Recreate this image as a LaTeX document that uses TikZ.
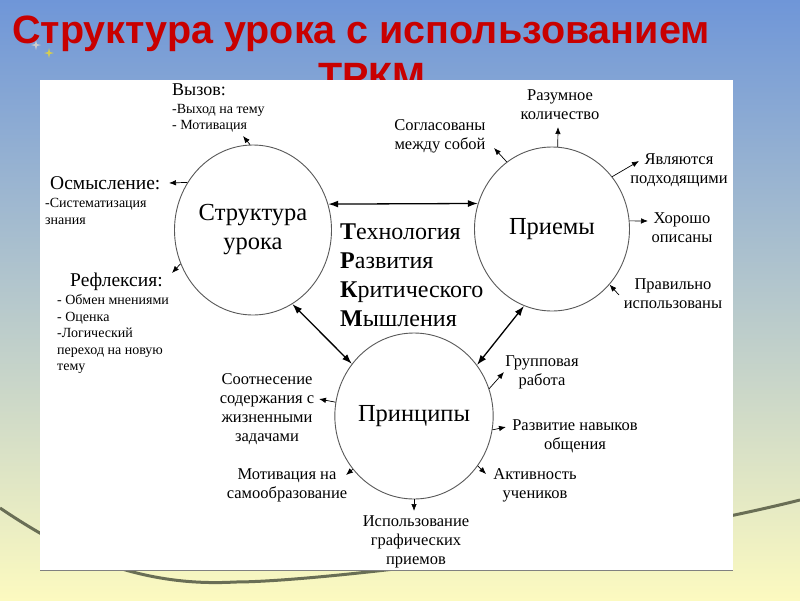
\documentclass[tikz,border=0pt]{standalone}
\usepackage{fontspec}
\setmainfont{Liberation Serif}
\newfontfamily\titlefont{Liberation Sans}
\usetikzlibrary{shapes.geometric,arrows.meta}
\definecolor{skytop}{RGB}{111,150,216}
\definecolor{sandbottom}{RGB}{252,250,192}
\definecolor{titlered}{RGB}{200,0,0}
\definecolor{swoosh}{RGB}{105,110,85}
\tikzset{
  bubble/.style={draw=black!65, line width=0.9pt, ellipse, inner sep=0pt, align=center,
    font=\fontsize{24.5}{29}\selectfont},
  heading/.style={anchor=west, inner sep=0pt, font=\fontsize{19.5}{20}\selectfont},
  leftnote/.style={anchor=west, align=left, inner sep=0pt, font=\fontsize{14}{16.5}\selectfont},
  bignote/.style={anchor=west, align=left, inner sep=0pt, font=\fontsize{24}{29}\selectfont},
  note/.style={align=center, inner sep=0pt, font=\fontsize{16.5}{19}\selectfont},
  titletext/.style={anchor=base, text=titlered, font=\titlefont\bfseries\fontsize{39.5}{47}\selectfont},
  outarrow/.style={-{Latex[length=7pt,width=5.5pt]}, line width=0.7pt},
  linkarrow/.style={{Latex[length=10pt,width=7pt]}-{Latex[length=10pt,width=7pt]}, line width=1.3pt},
}
\begin{document}
\begin{tikzpicture}[x=1pt,y=-1pt]
\useasboundingbox (0,0) rectangle (800,600);
% background
\shade[top color=skytop, bottom color=sandbottom] (0,0) rectangle (800,600);
\draw[swoosh, line width=3pt] (0,508) .. controls (55,545) and (130,588) .. (235,582)
  .. controls (320,582) and (620,545) .. (800,500);
\foreach \x/\y/\c in {36/45/gray!40, 49/53/yellow!60!gray}
  \fill[\c] (\x,\y-5) -- (\x+1,\y-1) -- (\x+5,\y) -- (\x+1,\y+1) -- (\x,\y+5)
    -- (\x-1,\y+1) -- (\x-5,\y) -- (\x-1,\y-1) -- cycle;
% title
\node[titletext] (title) at (361,43) {Структура урока с использованием};
\node[titletext] (titletail) at (372,90) {ТРКМ};
% panel
\fill[white] (40,80) rectangle (733,570);
\draw[gray, line width=0.8pt] (40,570) -- (733,570);

% circles
\node[bubble, minimum width=157pt, minimum height=170pt] (str) at (253,230) {Структура\\урока};
\node[bubble, minimum width=155pt, minimum height=164pt] (pri) at (552,229) {Приемы};
\node[bubble, minimum width=158pt, minimum height=166pt] (prn) at (414,416) {Принципы};

\node[bignote] (trkm) at (340,275) {\textbf{Т}ехнология\\\textbf{Р}азвития\\\textbf{К}ритического\\\textbf{М}ышления};
\draw[linkarrow] (str.19) -- (pri.161);
\draw[linkarrow] (str.-62) -- (prn.140);
\draw[linkarrow] (pri.250) -- (prn.39);

% lesson structure
\node[heading, font=\fontsize{18}{20}\selectfont] (vyzov) at (172,90) {Вызов:};
\node[leftnote] (vyzovtext) at (172,118.5) {-Выход на тему\\- Мотивация};
\node[heading] (osmysl) at (50,183) {Осмысление:};
\node[leftnote] (osmysltext) at (45,211.5) {-Систематизация\\знания};
\node[heading] (refl) at (70,282) {Рефлексия:};
\node[leftnote] (refltext) at (57,334) {- Обмен мнениями\\- Оценка\\-Логический\\переход на новую\\тему};
\coordinate (vyzovend) at (243,136);
\coordinate (osmyslend) at (169,183);
\coordinate (reflend) at (172,273);
\draw[outarrow] (str.92) -- (vyzovend);
\draw[outarrow] (str.144) -- (osmyslend);
\draw[outarrow] (str.205) -- (reflend);

% techniques
\node[note] (razum) at (560,105) {Разумное\\количество};
\node[note] (soglas) at (440,136) {Согласованы\\между собой};
\node[note] (yavl) at (679,170) {Являются\\подходящими};
\node[note] (horosho) at (682,228) {Хорошо\\описаны};
\node[note] (pravil) at (673,294) {Правильно\\использованы};
\coordinate (razumend) at (558,127);
\coordinate (soglasend) at (494,148);
\coordinate (yavlend) at (639,161);
\coordinate (horoshoend) at (648,221);
\coordinate (pravilstart) at (619,295);
\draw[outarrow] (pri.86) -- (razumend);
\draw[outarrow] (pri.124) -- (soglasend);
\draw[outarrow] (pri.41) -- (yavlend);
\draw[outarrow] (pri.6) -- (horoshoend);
\draw[outarrow] (pravilstart) -- (pri.-44);

% principles
\node[note] (grupp) at (542,372) {Групповая\\работа};
\node[note] (sootn) at (267,409.5) {Соотнесение\\содержания с\\жизненными\\задачами};
\node[note] (razvit) at (575,436.5) {Развитие навыков\\общения};
\node[note] (motiv) at (287,485.5) {Мотивация на\\самообразование};
\node[note] (aktiv) at (535,485.5) {Активность\\учеников};
\node[note] (ispol) at (416,542) {Использование\\графических\\приемов};
\coordinate (gruppend) at (504,372);
\coordinate (sootnend) at (319,399);
\coordinate (razvitend) at (506,427);
\coordinate (motivend) at (346,475);
\coordinate (aktivend) at (486,474);
\coordinate (ispolend) at (414,511);
\draw[outarrow] (prn.20) -- (gruppend);
\draw[outarrow] (prn.170) -- (sootnend);
\draw[outarrow] (prn.-10) -- (razvitend);
\draw[outarrow] (prn.221) -- (motivend);
\draw[outarrow] (prn.-38) -- (aktivend);
\draw[outarrow] (prn.south) -- (ispolend);
\end{tikzpicture}
\end{document}
